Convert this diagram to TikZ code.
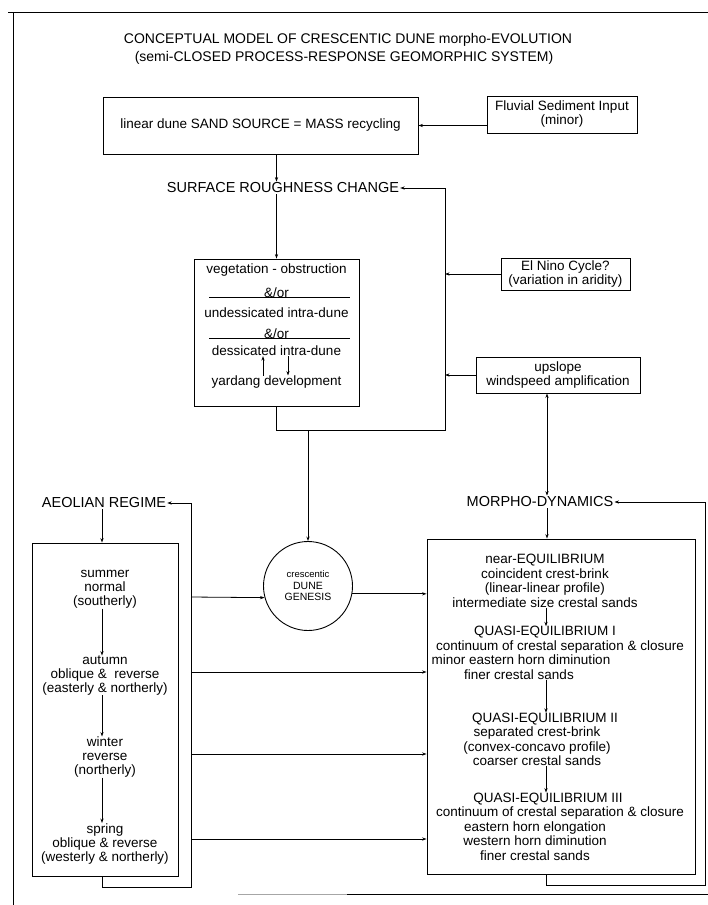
\documentclass[tikz,border=0pt]{standalone}
\usepackage{fontspec}
\setmainfont{Liberation Sans}
\usetikzlibrary{arrows.meta,calc}
\newcommand\padbox[1]{\hbox to #1{}}
\begin{document}
\begin{tikzpicture}[x=1pt,y=-1pt,
  ln/.style={line width=0.8pt},
  arr/.style={ln,-{Stealth[length=4.5pt,width=3.2pt]}},
  darr/.style={ln,{Stealth[length=4.5pt,width=3.2pt]}-{Stealth[length=4.5pt,width=3.2pt]}},
  box/.style={draw,line width=0.9pt,inner sep=0pt},
  txt/.style={inner sep=0pt,align=center,font=\fontsize{13.5}{14}\selectfont},
  rtxt/.style={inner sep=0pt,align=center,font=\fontsize{13.5}{14.5}\selectfont},
  lbl/.style={inner sep=1pt,font=\fontsize{14.5}{16}\selectfont},
  ttl/.style={inner sep=0pt,font=\fontsize{14}{16}\selectfont}]

\useasboundingbox (0,0) rectangle (708,905);

% page frame
\coordinate (f1) at (8,12); \coordinate (f2) at (708,12);
\coordinate (f3) at (13,12); \coordinate (f4) at (13,905);
\coordinate (b1) at (238,894); \coordinate (b2) at (347,894); \coordinate (b3) at (708,894);
\draw[ln] (f1) -- (f2);
\draw[ln] (f3) -- (f4);
\draw[ln,black!35] (b1) -- (b2);
\draw[ln] (b2) -- (b3);

% title
\node[ttl] (t1) at (348,40) {CONCEPTUAL MODEL OF CRESCENTIC DUNE morpho-EVOLUTION};
\node[ttl] (t2) at (344,58) {(semi-CLOSED PROCESS-RESPONSE GEOMORPHIC SYSTEM)};

% top row
\node[box,txt,minimum width=315pt,minimum height=57pt] (src) at (260.5,125.5) {linear dune SAND SOURCE = MASS recycling};
\node[box,txt,minimum width=150pt,minimum height=37pt] (fluv) at (562,114.5) {Fluvial Sediment Input\\(minor)};
\draw[arr] (fluv.west |- src.east) -- (src.east);

% surface roughness
\node[lbl] (rough) at (283,188) {SURFACE ROUGHNESS CHANGE};
\node[box,minimum width=165pt,minimum height=147pt] (veg) at (276.5,332.5) {};
\draw[arr] (veg.north |- src.south) -- (veg.north |- rough.north);
\draw[arr] (veg.north |- rough.south) -- (veg.north);

\node[txt] (v1) at (276.5,270) {vegetation - obstruction};
\node[txt] (o1) at (276.5,293) {\&/or};
\node[txt] (v2) at (276.5,313) {undessicated intra-dune};
\node[txt] (o2) at (276.5,334) {\&/or};
\node[txt] (v3) at (276.5,351) {dessicated intra-dune};
\node[txt] (v4) at (276.5,382) {yardang development};
\coordinate (s1a) at (209,0); \coordinate (s1b) at (350,0);
\draw[ln] (s1a |- o1.base) -- (s1b |- o1.base);
\draw[ln] (s1a |- o2.base) -- (s1b |- o2.base);
\coordinate (u1) at (263,0); \coordinate (u2) at (288,0);
\draw[arr] (v4.north -| u1) -- (v3.south -| u1);
\draw[arr] (v3.south -| u2) -- (v4.north -| u2);

% right feedback column
\coordinate (rc1) at (445,188); \coordinate (rc2) at (445,430); \coordinate (rc3) at (276.5,430);
\draw[ln] (veg.south) -- (rc3) -- (rc2) -- (rc1);
\draw[arr] (rc1) -- (rough.east);

\node[box,txt,minimum width=129pt,minimum height=32pt] (nino) at (565.5,274) {El Nino Cycle?\\(variation in aridity)};
\draw[arr] (nino.west) -- (nino.west -| rc1);
\node[box,txt,minimum width=164pt,minimum height=36pt] (ups) at (558,375) {upslope\\windspeed amplification};
\draw[arr] (ups.west) -- (ups.west -| rc1);

% dune genesis
\node[draw,circle,line width=0.9pt,minimum size=89pt,inner sep=0pt,align=center,font=\fontsize{10.5}{11.5}\selectfont] (gen) at (308,586) {{\fontsize{9.5}{11}\selectfont crescentic}\\DUNE\\GENESIS};
\coordinate (gc) at (308,430);
\draw[arr] (gc) -- (gen.north);

% morpho-dynamics
\node[lbl] (morph) at (540,502) {MORPHO-DYNAMICS};
\coordinate (mx) at (547,0);
\draw[darr] (ups.south -| mx) -- (morph.north -| mx);
\node[box,minimum width=268pt,minimum height=335pt] (rbox) at (561,706.5) {};
\draw[arr] (morph.south -| mx) -- (rbox.north -| mx);
\coordinate (rl1) at (546,885); \coordinate (rl2) at (705,885); \coordinate (rl3) at (705,502);
\draw[ln] (rbox.south -| rl1) -- (rl1) -- (rl2) -- (rl3);
\draw[arr] (rl3) -- (morph.east);

\node[rtxt] (ne) at (545,581) {near-EQUILIBRIUM\\coincident crest-brink\\(linear-linear profile)\\intermediate size crestal sands};
\node[rtxt] (q1) at (545,653) {QUASI-EQUILIBRIUM I\\\padbox{30pt}continuum of crestal separation \& closure\\minor eastern horn diminution\padbox{48pt}\\finer crestal sands\padbox{52pt}};
\node[rtxt] (q2) at (537,739.5) {\padbox{16pt}QUASI-EQUILIBRIUM II\\separated crest-brink\\(convex-concavo profile)\\coarser crestal sands};
\node[rtxt] (q3) at (535,826.5) {\padbox{26pt}QUASI-EQUILIBRIUM III\\\padbox{50pt}continuum of crestal separation \& closure\\eastern horn elongation\\western horn diminution\\finer crestal sands};
\coordinate (rx) at (546,0);
\draw[arr] (ne.south -| rx) -- (q1.north -| rx);
\draw[arr] (q1.south -| rx) -- (q2.north -| rx);
\draw[arr] (q2.south -| rx) -- (q3.north -| rx);

% aeolian regime
\node[lbl] (aeo) at (104,503) {AEOLIAN REGIME};
\node[box,minimum width=146pt,minimum height=333pt] (lbox) at (105,709.5) {};
\coordinate (ax) at (102,0);
\draw[arr] (aeo.south -| ax) -- (lbox.north -| ax);
\coordinate (ll1) at (102,887); \coordinate (ll2) at (191,887); \coordinate (ll3) at (191,503);
\draw[ln] (lbox.south -| ll1) -- (ll1) -- (ll2) -- (ll3);
\draw[arr] (ll3) -- (aeo.east);

\node[txt] (sum) at (105,589.5) {summer\\normal\\(southerly)};
\node[txt] (aut) at (105,675.5) {autumn\\oblique \&\ \ reverse\\(easterly \& northerly)};
\node[txt] (win) at (105,757) {winter\\reverse\\(northerly)};
\node[txt] (spr) at (105,843.5) {spring\\oblique \& reverse\\(westerly \& northerly)};
\draw[arr] (sum.south -| ax) -- (aut.north -| ax);
\draw[arr] (aut.south -| ax) -- (win.north -| ax);
\draw[arr] (win.south -| ax) -- (spr.north -| ax);

% links to genesis and morpho-dynamics
\coordinate (h0) at (191,597);
\coordinate (h1) at (191,672);
\coordinate (h2) at (191,754);
\coordinate (h3) at (191,839);
\draw[arr] (h0) -- (gen.195);
\draw[arr] (gen.-10) -- (gen.-10 -| rbox.west);
\draw[arr] (h1) -- (h1 -| rbox.west);
\draw[arr] (h2) -- (h2 -| rbox.west);
\draw[arr] (h3) -- (h3 -| rbox.west);
\end{tikzpicture}
\end{document}
